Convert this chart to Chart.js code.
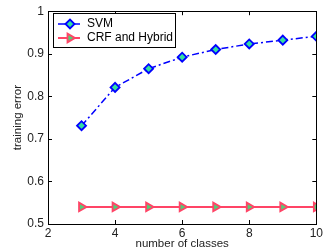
<!DOCTYPE html>
<html><head><meta charset="utf-8">
<script src="https://cdn.jsdelivr.net/npm/chart.js@4/dist/chart.umd.min.js"></script>
<style>html,body{margin:0;padding:0;background:#fff}#wrap{width:325px;height:251px}</style>
</head><body><div id="wrap"><canvas id="c" width="325" height="251"></canvas></div>
<script>
const classes = [3, 4, 5, 6, 7, 8, 9, 10];
const svm = [0.731, 0.821, 0.865, 0.892, 0.910, 0.923, 0.932, 0.941];
const crf = [0.54, 0.54, 0.54, 0.54, 0.54, 0.54, 0.54, 0.54];
const xTicks = [2, 4, 6, 8, 10];
const yTicks = [0.5, 0.6, 0.7, 0.8, 0.9, 1];
const seriesNames = ['SVM', 'CRF and Hybrid'];

const FONT = 'Liberation Sans, Arial, sans-serif';
const txt = '#222';

const framePlugin = {
  id: 'frame',
  afterDatasetsDraw(chart) {
    const {ctx, chartArea: a, scales} = chart;
    ctx.save();
    ctx.strokeStyle = '#000';
    ctx.lineWidth = 1;
    ctx.strokeRect(Math.round(a.left) + 0.5, Math.round(a.top) + 0.5, Math.round(a.right - a.left), Math.round(a.bottom - a.top));
    const L = 4;
    ctx.beginPath();
    xTicks.forEach(v => {
      const x = Math.round(scales.x.getPixelForValue(v)) + 0.5;
      ctx.moveTo(x, a.bottom); ctx.lineTo(x, a.bottom - L);
      ctx.moveTo(x, a.top); ctx.lineTo(x, a.top + L);
    });
    yTicks.forEach(v => {
      const y = Math.round(scales.y.getPixelForValue(v)) + 0.5;
      ctx.moveTo(a.left, y); ctx.lineTo(a.left + L, y);
      ctx.moveTo(a.right, y); ctx.lineTo(a.right - L, y);
    });
    ctx.stroke();
    // legend
    const bx = 53.5, by = 13.5, bw = 122, bh = 34;
    ctx.fillStyle = '#fff';
    ctx.fillRect(bx, by, bw, bh);
    ctx.strokeRect(bx, by, bw, bh);
    const ds = chart.data.datasets;
    const rows = [24, 38];
    ds.forEach((d, i) => {
      const y = rows[i];
      ctx.save();
      ctx.strokeStyle = d.borderColor;
      ctx.lineWidth = d.borderWidth;
      ctx.setLineDash(d.borderDash || []);
      ctx.beginPath(); ctx.moveTo(58, y); ctx.lineTo(80, y); ctx.stroke();
      ctx.setLineDash([]);
      ctx.fillStyle = d.pointBackgroundColor;
      ctx.strokeStyle = d.pointBorderColor;
      ctx.lineWidth = d.pointBorderWidth;
      Chart.helpers.drawPoint(ctx, {
        pointStyle: d.pointStyle, rotation: d.pointRotation || 0,
        radius: d.pointRadius, borderWidth: d.pointBorderWidth
      }, 70, y);
      ctx.restore();
      ctx.fillStyle = '#000';
      ctx.font = '12px ' + FONT;
      ctx.textBaseline = 'middle';
      ctx.textAlign = 'left';
      ctx.fillText(seriesNames[i], 87, y);
    });
    ctx.restore();
  }
};

new Chart(document.getElementById('c'), {
  type: 'line',
  data: {
    datasets: [
      {
        label: seriesNames[0],
        data: classes.map((c, i) => ({x: c, y: svm[i]})),
        borderColor: '#0000ff', borderWidth: 1.5, borderDash: [7, 3, 2, 3],
        pointStyle: 'rectRot', pointRadius: 4.5, pointBorderWidth: 1.8,
        pointBorderColor: '#0000ff', pointBackgroundColor: '#33e0a0',
        fill: false, tension: 0
      },
      {
        label: seriesNames[1],
        data: classes.map((c, i) => ({x: c, y: crf[i]})),
        borderColor: '#ff4466', borderWidth: 2,
        pointStyle: 'triangle', pointRotation: 90, pointRadius: 5, pointBorderWidth: 1.8,
        pointBorderColor: '#ff4466', pointBackgroundColor: '#55cc77',
        fill: false, tension: 0
      }
    ]
  },
  options: {
    responsive: false, animation: false,
    layout: {padding: {top: 10, right: 5, left: 0, bottom: 0}},
    plugins: {legend: {display: false}, tooltip: {enabled: false}},
    scales: {
      x: {
        type: 'linear', min: 2, max: 10,
        afterBuildTicks: s => { s.ticks = xTicks.map(v => ({value: v})); },
        afterFit: s => { s.height = 27; },
        grid: {display: false, drawTicks: false, tickLength: 0}, border: {display: false},
        ticks: {color: txt, font: {family: FONT, size: 12}, padding: 2, maxRotation: 0},
        title: {display: true, text: 'number of classes', color: txt, font: {family: FONT, size: 11.5}, padding: {top: 0, bottom: 0}}
      },
      y: {
        type: 'linear', min: 0.5, max: 1,
        afterBuildTicks: s => { s.ticks = yTicks.map(v => ({value: v})); },
        afterFit: s => { s.width = 48; },
        grid: {display: false, drawTicks: false, tickLength: 0}, border: {display: false},
        ticks: {color: txt, font: {family: FONT, size: 12}, padding: 4, callback: v => String(v)},
        title: {display: true, text: 'training error', color: txt, font: {family: FONT, size: 11.5}, padding: {top: 11, bottom: 0}}
      }
    }
  },
  plugins: [framePlugin]
});
</script></body></html>
